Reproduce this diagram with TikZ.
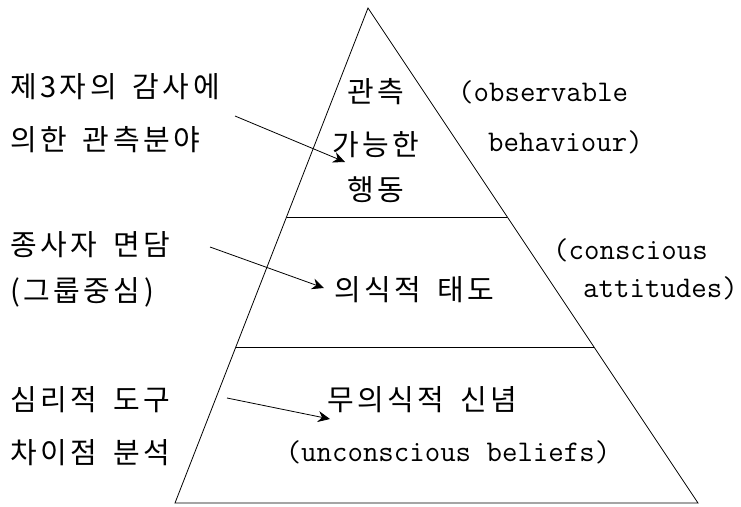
\documentclass[tikz,border=0pt]{standalone}
\usepackage{fontspec}
\newfontfamily\kr[LetterSpace=12,WordSpace=1.6]{Noto Sans CJK KR}
\usetikzlibrary{arrows.meta}
\begin{document}
\begin{tikzpicture}[x=1pt,y=-1pt,
  krtext/.style={font=\kr\fontsize{29}{32}\selectfont, inner sep=0pt},
  entext/.style={font=\ttfamily\fontsize{30}{32}\selectfont, inner sep=0pt},
  edge/.style={line width=0.8pt},
  pointer/.style={line width=0.8pt, -{Stealth[length=12pt,width=11pt]}}]
\useasboundingbox (0,0) rectangle (741,506);
% pyramid
\coordinate (apex) at (368,8);
\coordinate (bl) at (175,503);
\coordinate (br) at (698,503);
\coordinate (l1) at (286.5,217);
\coordinate (r1) at (507.3,217);
\coordinate (l2) at (235.8,347);
\coordinate (r2) at (594,347);
\draw[edge] (bl) -- (apex) -- (br) -- cycle;
\draw[edge] (l1) -- (r1);
\draw[edge] (l2) -- (r2);
% left labels
\node[krtext, anchor=west] (t1a) at (10,87) {제3자의 감사에};
\node[krtext, anchor=west] (t1b) at (10,140) {의한 관측분야};
\node[krtext, anchor=west] (t2a) at (10,245) {종사자 면담};
\node[krtext, anchor=west] (t2b) at (10,292) {(그룹중심)};
\node[krtext, anchor=west] (t3a) at (10,400) {심리적 도구};
\node[krtext, anchor=west] (t3b) at (10,453) {차이점 분석};
% inside labels
\node[krtext] (c1a) at (376,92) {관측};
\node[krtext] (c1b) at (376,145) {가능한};
\node[krtext] (c1c) at (376,190) {행동};
\node[krtext] (c2) at (414,290) {의식적 태도};
\node[krtext] (c3) at (422,400) {무의식적 신념};
\node[entext] (c3e) at (448,452) {(unconscious beliefs)};
% right labels
\node[entext, anchor=west] (e1a) at (458,92) {(observable};
\node[entext, anchor=west] (e1b) at (488,142) {behaviour)};
\node[entext, anchor=west] (e2a) at (553,250) {(conscious};
\node[entext, anchor=west] (e2b) at (583,288) {attitudes)};
% arrows
\coordinate (s1) at (235,116);
\coordinate (f1) at (345,162);
\coordinate (s2) at (210,247);
\coordinate (f2) at (324,288);
\coordinate (s3) at (227,398);
\coordinate (f3) at (330,419);
\draw[pointer] (s1) -- (f1);
\draw[pointer] (s2) -- (f2);
\draw[pointer] (s3) -- (f3);
\end{tikzpicture}
\end{document}
